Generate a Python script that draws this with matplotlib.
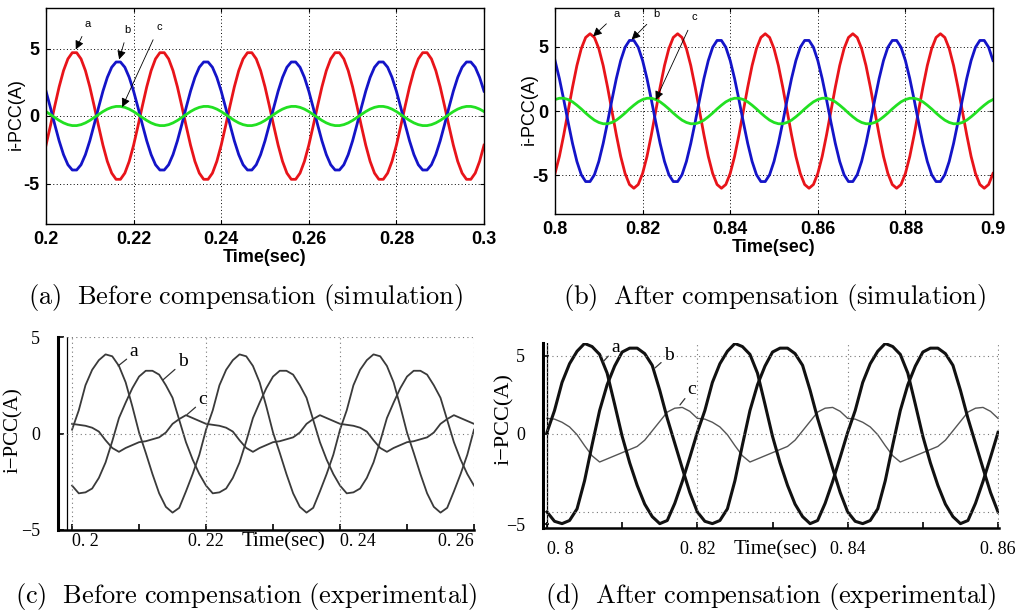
import matplotlib.pyplot as plt
import numpy as np

plt.rcParams['mathtext.fontset'] = 'cm'
plt.rcParams['axes.unicode_minus'] = False

W, H = 1018, 616

# one 20 ms cycle of every phase current, every 1 ms
# (a) before compensation, simulation, starts at t = 0.2 s
sim_before_a = [-2.16, -0.74, 0.74, 2.16, 3.36, 4.23, 4.69, 4.69, 4.23, 3.36,
                2.16, 0.74, -0.74, -2.16, -3.36, -4.23, -4.69, -4.69, -4.23, -3.36]
sim_before_b = [1.84, 0.63, -0.63, -1.84, -2.86, -3.61, -4.0, -4.0, -3.61, -2.86,
                -1.84, -0.63, 0.63, 1.84, 2.86, 3.61, 4.0, 4.0, 3.61, 2.86]
sim_before_c = [0.33, 0.11, -0.11, -0.33, -0.51, -0.64, -0.71, -0.71, -0.64, -0.51,
                -0.33, -0.11, 0.11, 0.33, 0.51, 0.64, 0.71, 0.71, 0.64, 0.51]
# (b) after compensation, simulation, starts at t = 0.8 s
sim_after_a = [-4.85, -3.53, -1.85, 0.0, 1.85, 3.53, 4.85, 5.71, 6.0, 5.71,
               4.85, 3.53, 1.85, 0.0, -1.85, -3.53, -4.85, -5.71, -6.0, -5.71]
sim_after_b = [3.92, 2.52, 0.87, -0.87, -2.52, -3.92, -4.95, -5.48, -5.48, -4.95,
               -3.92, -2.52, -0.87, 0.87, 2.52, 3.92, 4.95, 5.48, 5.48, 4.95]
sim_after_c = [0.89, 0.99, 0.99, 0.89, 0.71, 0.45, 0.16, -0.16, -0.45, -0.71,
               -0.89, -0.99, -0.99, -0.89, -0.71, -0.45, -0.16, 0.16, 0.45, 0.71]
# (c) before compensation, experimental, starts at t = 0.2 s
exp_before_a = [0.2, 1.2, 2.5, 3.3, 3.8, 4.1, 4.0, 3.5, 2.65, 1.4,
                0.05, -1.0, -2.1, -3.1, -3.8, -4.1, -3.85, -3.0, -2.1, -1.1]
exp_before_b = [-2.7, -3.1, -3.05, -2.85, -2.3, -1.5, -0.4, 0.8, 1.6, 2.35,
                2.95, 3.25, 3.25, 3.05, 2.5, 1.85, 0.7, -0.45, -1.35, -2.1]
exp_before_c = [0.5, 0.45, 0.4, 0.3, 0.1, -0.35, -0.75, -0.95, -0.75, -0.6,
                -0.45, -0.4, -0.3, -0.2, 0.05, 0.5, 0.75, 0.95, 0.8, 0.65]
# (d) after compensation, experimental, starts at t = 0.8 s
exp_after_a = [0.1, 1.5, 3.3, 4.5, 5.3, 5.8, 5.6, 5.1, 3.9, 1.9,
               -0.15, -1.85, -3.3, -4.5, -5.3, -5.75, -5.55, -4.45, -3.05, -1.5]
exp_after_b = [-5.0, -5.6, -5.75, -5.55, -4.8, -3.0, -0.7, 1.5, 3.15, 4.35,
               5.25, 5.5, 5.5, 5.15, 4.4, 2.8, 1.0, -0.6, -2.2, -3.75]
exp_after_c = [1.0, 0.95, 0.75, 0.45, -0.05, -0.75, -1.4, -1.8, -1.6, -1.4,
               -1.2, -1.0, -0.8, -0.4, 0.2, 0.8, 1.4, 1.65, 1.7, 1.45]

ticks_a = [0.2, 0.22, 0.24, 0.26, 0.28, 0.3]
ticklabels_a = ['0.2', '0.22', '0.24', '0.26', '0.28', '0.3']
ticks_b = [0.8, 0.82, 0.84, 0.86, 0.88, 0.9]
ticklabels_b = ['0.8', '0.82', '0.84', '0.86', '0.88', '0.9']
ticks_c = [0.2, 0.22, 0.24, 0.26]
ticklabels_c = ['0. 2', '0. 22', '0. 24', '0. 26']
ticks_d = [0.8, 0.82, 0.84, 0.86]
ticklabels_d = ['0. 8', '0. 82', '0. 84', '0. 86']

captions = [r'$\mathrm{(a)\ \ Before\ compensation\ (simulation)}$',
            r'$\mathrm{(b)\ \ After\ compensation\ (simulation)}$',
            r'$\mathrm{(c)\ \ Before\ compensation\ (experimental)}$',
            r'$\mathrm{(d)\ \ After\ compensation\ (experimental)}$']


def trace(cycle, n):
    # repeat the read cycle n times and close it on the first sample
    return np.append(np.tile(cycle, n), cycle[0])


def box(x0, y0, x1, y1):
    return fig.add_axes([x0 / W, 1 - y1 / H, (x1 - x0) / W, (y1 - y0) / H])


fig = plt.figure(figsize=(W / 100, H / 100), dpi=100)

SANS = 'Liberation Sans'
SERIF = 'Liberation Serif'


def sim_panel(ax, t, a, b, c, ticks, labels, marks):
    ax.plot(t, a, color='#e8141a', lw=2.0)
    ax.plot(t, b, color='#1414c8', lw=2.0)
    ax.plot(t, c, color='#22e022', lw=2.0)
    ax.set_xlim(ticks[0], ticks[-1])
    ax.set_ylim(-8, 8)
    ax.set_xticks(ticks)
    ax.set_xticklabels(labels, fontsize=13, fontweight='bold', family=SANS)
    ax.set_yticks([-5, 0, 5])
    ax.set_yticklabels(['-5', '0', '5'], fontsize=13, fontweight='bold', family=SANS)
    ax.tick_params(direction='in', length=3, top=True, right=True, pad=5)
    ax.grid(True, color='k', lw=0.7, ls=(0, (1, 2.5)))
    for s in ax.spines.values():
        s.set_linewidth(1.0)
    ax.set_xlabel('Time(sec)', fontsize=13, fontweight='bold', family=SANS, labelpad=1)
    ax.set_ylabel('i-PCC(A)', fontsize=13, family=SANS)
    for name, xy, xyt in marks:
        ax.annotate(name, xy=xy, xytext=xyt, fontsize=8, family=SANS,
                    ha='center', va='center',
                    arrowprops=dict(arrowstyle='-|>', color='k', lw=0.6,
                                    mutation_scale=13, shrinkA=4, shrinkB=0))


# (a)
ax = box(46, 8, 484, 224)
t = np.linspace(0.2, 0.3, 101)
sim_panel(ax, t, trace(sim_before_a, 5), trace(sim_before_b, 5), trace(sim_before_c, 5),
          ticks_a, ticklabels_a,
          [('a', (0.2068, 4.93), (0.2096, 6.84)),
           ('b', (0.2167, 4.19), (0.2187, 6.4)),
           ('c', (0.2174, 0.66), (0.2258, 6.6))])
ax.yaxis.set_label_coords(-0.048, 0.51)

# (b)
ax = box(555, 8, 993, 214)
t = np.linspace(0.8, 0.9, 101)
sim_panel(ax, t, trace(sim_after_a, 5), trace(sim_after_b, 5), trace(sim_after_c, 5),
          ticks_b, ticklabels_b,
          [('a', (0.8087, 5.8), (0.814, 7.5)),
           ('b', (0.8175, 5.55), (0.8232, 7.5)),
           ('c', (0.823, 0.86), (0.8317, 7.27))])
ax.yaxis.set_label_coords(-0.039, 0.51)


def exp_panel(ax, t, curves, ticks, labels, has, inner, hgrid, marks):
    for y, lw, col in curves:
        ax.plot(t, y, color=col, lw=lw)
    for s in ['top', 'right']:
        ax.spines[s].set_visible(False)
    ax.spines['left'].set_linewidth(2.2)
    ax.spines['bottom'].set_linewidth(1.8)
    ax.axvline(inner, color='k', lw=0.9)
    for x in ticks:
        ax.axvline(x, color='#777777', lw=0.8, ls=(0, (1, 3)))
    for y in hgrid:
        ax.axhline(y, color='#777777', lw=0.8, ls=(0, (1, 3)))
    ax.set_xticks(ticks)
    ax.set_xticklabels(labels, fontsize=13, family=SERIF)
    for lab, ha in zip(ax.get_xticklabels(), has):
        lab.set_ha(ha)
    ax.set_xticks([(ticks[i] + ticks[i + 1]) / 2 for i in range(len(ticks) - 1)], minor=True)
    ax.tick_params(axis='both', which='both', direction='in', length=4, width=1.2)
    for name, xy, xyt in marks:
        ax.annotate(name, xy=xy, xytext=xyt, fontsize=14, family=SERIF,
                    ha='center', va='center',
                    arrowprops=dict(arrowstyle='-', color='#333333', lw=0.9,
                                    shrinkA=0, shrinkB=0, relpos=(0.0, 0.2)))


# (c)
ax = box(58, 337, 474, 530)
t = np.linspace(0.2, 0.26, 61)
exp_panel(ax, t,
          [(trace(exp_before_a, 3), 1.3, '#3a3a3a'),
           (trace(exp_before_b, 3), 1.3, '#3a3a3a'),
           (trace(exp_before_c, 3), 1.3, '#3a3a3a')],
          ticks_c, ticklabels_c, ['left', 'center', 'left', 'right'],
          0.19925, [0, 5],
          [('a', (0.20687, 3.5), (0.2092, 4.23)),
           ('b', (0.21358, 2.78), (0.2165, 3.71)),
           ('c', (0.21716, 0.98), (0.2195, 1.75))])
ax.set_xlim(0.1979, 0.26)
ax.set_ylim(-5, 5)
ax.set_yticks([-5, 0, 5])
ax.set_yticklabels(['\u22125', '0', '5'], fontsize=13, family=SERIF)
ax.tick_params(axis='y', pad=13)
ax.tick_params(axis='x', pad=2)
ax.set_xlabel('Time(sec)', fontsize=15, family=SERIF)
ax.xaxis.set_label_coords(0.543, -0.012)
ax.set_ylabel('i\u2212PCC(A)', fontsize=15, family=SERIF)
ax.yaxis.set_label_coords(-0.085, 0.52)

# (d)
ax = box(543, 343, 999, 528)
t = np.linspace(0.8, 0.86, 61)
exp_panel(ax, t,
          [(trace(exp_after_c, 3), 1.0, '#555555'),
           (trace(exp_after_a, 3), 2.2, '#111111'),
           (trace(exp_after_b, 3), 2.2, '#111111')],
          ticks_d, ticklabels_d, ['left', 'center', 'center', 'center'],
          0.8, [-5, 0, 5],
          [('a', (0.80745, 4.62), (0.8091, 5.51)),
           ('b', (0.81437, 4.23), (0.8162, 5.06)),
           ('c', (0.81769, 1.86), (0.8193, 2.82))])
ax.set_xlim(0.79947, 0.86013)
ax.set_ylim(-6.03, 5.83)
ax.set_yticks([-5.8, 0, 5])
ax.set_yticklabels(['\u22125', '0', '5'], fontsize=13, family=SERIF)
ax.tick_params(axis='y', pad=13)
ax.tick_params(axis='x', pad=9)
ax.set_xlabel('Time(sec)', fontsize=15, family=SERIF)
ax.xaxis.set_label_coords(0.509, -0.065)
ax.set_ylabel('i\u2212PCC(A)', fontsize=16, family=SERIF)
ax.yaxis.set_label_coords(-0.064, 0.59)

# sub-figure captions
for text, x, y in zip(captions, [246, 775, 246, 771], [297, 297, 596, 596]):
    fig.text(x / W, 1 - y / H, text, ha='center', va='center', fontsize=19)

fig.savefig('out.png', dpi=100)
